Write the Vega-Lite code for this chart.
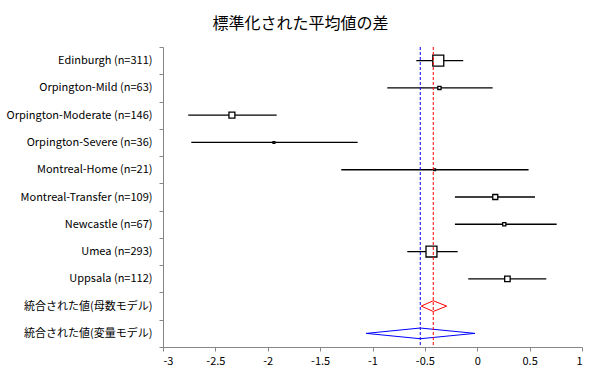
{
  "$schema": "https://vega.github.io/schema/vega-lite/v6.json",
  "width": 419,
  "height": 300,
  "autosize": {"type": "none"},
  "padding": {"left": 163, "top": 47, "right": 19, "bottom": 31},
  "background": "white",
  "title": {
    "text": "標準化された平均値の差",
    "font": "Noto Sans CJK JP",
    "fontSize": 16,
    "fontWeight": "normal",
    "color": "black",
    "anchor": "middle",
    "frame": "group",
    "dx": -72,
    "offset": 9
  },
  "config": {
    "view": {"stroke": null},
    "axis": {
      "grid": false,
      "domainColor": "#868686",
      "tickColor": "#868686",
      "labelColor": "black",
      "labelFont": "Noto Sans CJK JP",
      "labelFontSize": 11
    }
  },
  "datasets": {
    "studies": [
      {"study": "Edinburgh (n=311)", "est": -0.372, "lo": -0.582, "hi": -0.134, "weight": 12},
      {"study": "Orpington-Mild (n=63)", "est": -0.361, "lo": -0.859, "hi": 0.147, "weight": 3.5},
      {"study": "Orpington-Moderate (n=146)", "est": -2.342, "lo": -2.759, "hi": -1.915, "weight": 6.5},
      {"study": "Orpington-Severe (n=36)", "est": -1.941, "lo": -2.73, "hi": -1.142, "weight": 2},
      {"study": "Montreal-Home (n=21)", "est": -0.407, "lo": -1.298, "hi": 0.49, "weight": 2},
      {"study": "Montreal-Transfer (n=109)", "est": 0.172, "lo": -0.213, "hi": 0.551, "weight": 5.5},
      {"study": "Newcastle (n=67)", "est": 0.258, "lo": -0.213, "hi": 0.758, "weight": 3.5},
      {"study": "Umea (n=293)", "est": -0.437, "lo": -0.668, "hi": -0.187, "weight": 12},
      {"study": "Uppsala (n=112)", "est": 0.288, "lo": -0.086, "hi": 0.659, "weight": 6}
    ],
    "diamonds": [
      {"row": "統合された値(母数モデル)", "model": "fixed", "x": -0.535, "vert": 0, "ord": 1},
      {"row": "統合された値(母数モデル)", "model": "fixed", "x": -0.42, "vert": -1, "ord": 2},
      {"row": "統合された値(母数モデル)", "model": "fixed", "x": -0.292, "vert": 0, "ord": 3},
      {"row": "統合された値(母数モデル)", "model": "fixed", "x": -0.42, "vert": 1, "ord": 4},
      {"row": "統合された値(変量モデル)", "model": "random", "x": -1.06, "vert": 0, "ord": 1},
      {"row": "統合された値(変量モデル)", "model": "random", "x": -0.544, "vert": -1, "ord": 2},
      {"row": "統合された値(変量モデル)", "model": "random", "x": -0.022, "vert": 0, "ord": 3},
      {"row": "統合された値(変量モデル)", "model": "random", "x": -0.544, "vert": 1, "ord": 4}
    ],
    "pooled": [
      {"model": "fixed", "est": -0.42},
      {"model": "random", "est": -0.544}
    ]
  },
  "layer": [
    {
      "data": {"name": "studies"},
      "mark": {"type": "rule", "color": "black", "strokeWidth": 1.3},
      "encoding": {
        "x": {
          "field": "lo",
          "type": "quantitative",
          "scale": {"domain": [-3, 1], "nice": false, "zero": false},
          "axis": {
            "title": null,
            "values": [-3, -2.5, -2, -1.5, -1, -0.5, 0, 0.5, 1],
            "labelExpr": "'' + datum.value",
            "tickSize": 4,
            "labelPadding": 4
          }
        },
        "x2": {"field": "hi"},
        "y": {
          "field": "study",
          "type": "nominal",
          "sort": null,
          "scale": {
            "domain": [
              "Edinburgh (n=311)", "Orpington-Mild (n=63)", "Orpington-Moderate (n=146)",
              "Orpington-Severe (n=36)", "Montreal-Home (n=21)", "Montreal-Transfer (n=109)",
              "Newcastle (n=67)", "Umea (n=293)", "Uppsala (n=112)",
              "統合された値(母数モデル)", "統合された値(変量モデル)"
            ],
            "paddingInner": 0,
            "paddingOuter": 0
          },
          "axis": {
            "title": null,
            "tickBand": "extent",
            "tickSize": 4,
            "labelPadding": 7,
            "labelLimit": 200
          }
        }
      }
    },
    {
      "mark": {"type": "rule", "color": "#868686", "strokeWidth": 1.2},
      "encoding": {"x": {"datum": 0, "type": "quantitative"}}
    },
    {
      "data": {"name": "studies"},
      "mark": {"type": "point", "shape": "square", "filled": true, "fill": "white", "stroke": "black", "strokeWidth": 1.3, "opacity": 1},
      "encoding": {
        "x": {"field": "est", "type": "quantitative"},
        "y": {"field": "study", "type": "nominal", "sort": null},
        "size": {
          "field": "weight",
          "type": "quantitative",
          "scale": {"type": "pow", "exponent": 2, "domain": [0, 12], "range": [0, 120]},
          "legend": null
        }
      }
    },
    {
      "data": {"name": "diamonds"},
      "mark": {"type": "line", "interpolate": "linear-closed", "strokeWidth": 1},
      "encoding": {
        "x": {"field": "x", "type": "quantitative"},
        "y": {"field": "row", "type": "nominal", "sort": null},
        "yOffset": {
          "field": "vert",
          "type": "quantitative",
          "scale": {"domain": [-1, 1], "range": [8.3, 19]}
        },
        "color": {
          "field": "model",
          "type": "nominal",
          "scale": {"domain": ["fixed", "random"], "range": ["#ff0000", "#0000ff"]},
          "legend": null
        },
        "order": {"field": "ord", "type": "quantitative"}
      }
    },
    {
      "data": {"name": "pooled"},
      "mark": {"type": "rule", "strokeWidth": 1, "strokeDash": [3, 2]},
      "encoding": {
        "x": {"field": "est", "type": "quantitative"},
        "color": {"field": "model", "type": "nominal", "legend": null}
      }
    }
  ]
}
